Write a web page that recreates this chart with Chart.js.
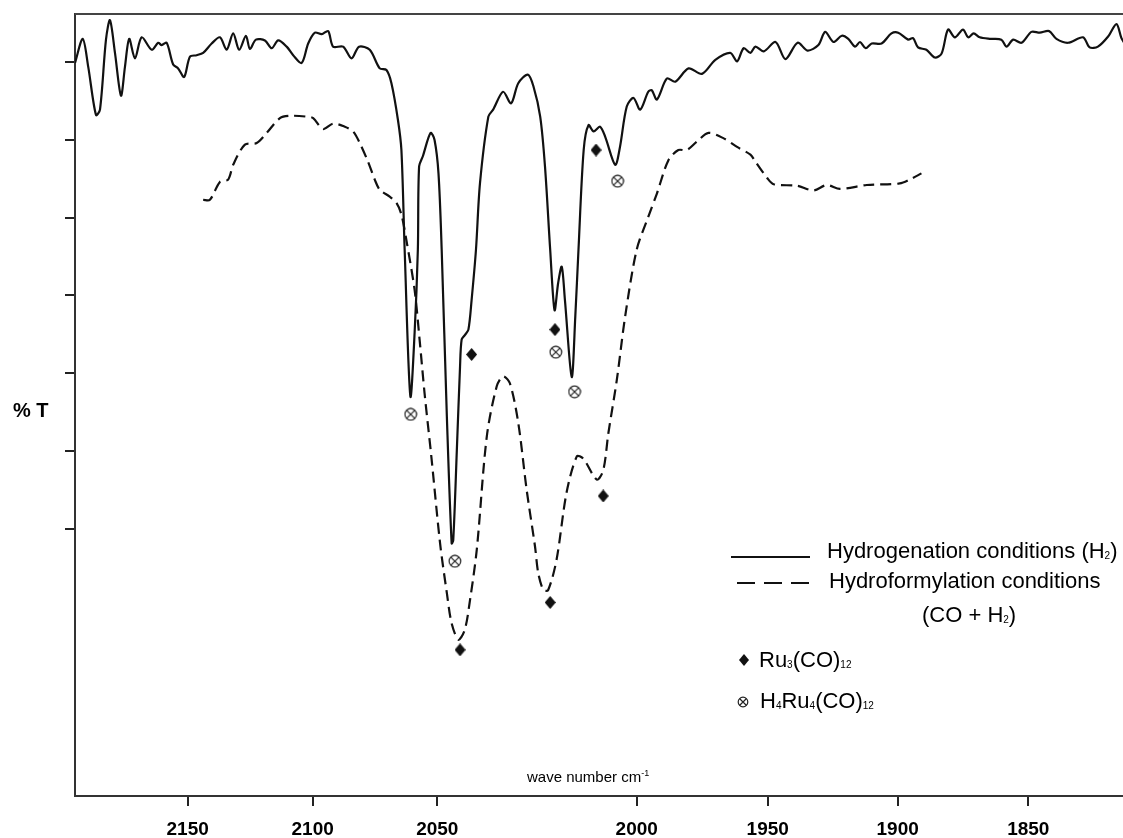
<!DOCTYPE html>
<html>
<head>
<meta charset="utf-8">
<title>IR spectra of Ru carbonyl species</title>
<script src="https://cdn.jsdelivr.net/npm/chart.js@4/dist/chart.umd.min.js"></script>
<style>
  html, body { margin: 0; padding: 0; background: #fff; }
  #wrap { width: 1123px; height: 838px; position: relative; }
</style>
</head>
<body>
<div id="wrap"><canvas id="chart" width="1123" height="838"></canvas></div>
<script>
// ---- axis description -------------------------------------------------
const xTickValues = [2150, 2100, 2050, 2000, 1950, 1900, 1850];
const xAxisEnds = [2195.1, 1813.7];            // left end, right end (cm-1)
// share of the axis length at each printed tick (the printed axis is not uniform)
const xTickFractions = [0.1075, 0.2268, 0.3457, 0.5360, 0.6610, 0.7850, 0.9096];
const yTickValues = [40, 50, 60, 70, 80, 90, 100];
const yRange = [5.6, 106.2];

// ---- spectra ------------------------------------------------------------
// Hydrogenation conditions (H2) - solid trace
const hydrogenationWavenumber = [
  2195.1, 2192.0, 2189.8, 2186.7, 2185.1, 2182.7, 2181.1, 2179.1, 2176.7, 2175.1,
  2173.4, 2171.1, 2168.4, 2164.4, 2161.8, 2160.4, 2158.4, 2155.8, 2153.8, 2151.4,
  2149.1, 2146.4, 2143.8, 2140.4, 2137.1, 2134.4, 2131.8, 2129.4, 2126.7, 2125.1,
  2122.7, 2119.1, 2116.4, 2113.8, 2110.4, 2107.8, 2104.4, 2101.8, 2099.1, 2096.4,
  2093.8, 2091.8, 2087.8, 2084.4, 2081.4, 2077.1, 2073.1, 2070.4, 2068.4, 2065.8,
  2064.4, 2063.1, 2060.8, 2059.1, 2057.8, 2057.3, 2055.8, 2052.7, 2051.1, 2049.7,
  2048.9, 2047.6, 2046.4, 2046.0, 2045.1, 2044.3, 2043.9, 2043.1, 2042.2, 2041.4,
  2040.3, 2039.3, 2037.2, 2036.0, 2033.5, 2031.5, 2029.7, 2027.3, 2025.9, 2024.2,
  2023.0, 2021.7, 2020.6, 2019.7, 2018.8, 2018.0, 2016.3, 2015.4, 2014.6, 2013.3,
  2012.1, 2010.8, 2009.2, 2007.9, 2005.4, 2004.2, 2002.5, 2000.8, 1998.7, 1995.6,
  1994.3, 1992.3, 1988.5, 1985.3, 1980.2, 1975.1, 1970.0, 1964.3, 1961.7, 1959.2,
  1956.6, 1954.7, 1951.5, 1947.0, 1943.2, 1938.5, 1934.7, 1930.5, 1927.9, 1924.7,
  1921.5, 1919.0, 1916.4, 1914.5, 1912.3, 1910.0, 1906.2, 1902.4, 1899.8, 1896.0,
  1894.1, 1892.2, 1889.0, 1885.8, 1883.2, 1880.7, 1878.1, 1875.0, 1873.0, 1870.9,
  1868.6, 1864.7, 1860.3, 1858.3, 1855.8, 1852.6, 1848.8, 1845.6, 1842.0, 1839.2,
  1834.8, 1829.0, 1826.5, 1823.3, 1819.4, 1816.2, 1814.3, 1812.7
];
const hydrogenationT = [
  99.9, 103.0, 99.4, 93.2, 93.9, 102.9, 105.4, 101.2, 95.7, 99.4,
  103.0, 100.5, 103.2, 101.6, 102.5, 102.2, 102.5, 99.7, 99.2, 98.1,
  100.7, 100.9, 101.2, 102.4, 103.2, 101.6, 103.7, 101.6, 103.4, 101.7,
  102.9, 102.8, 101.8, 102.8, 102.0, 100.9, 99.9, 102.4, 103.8, 103.6,
  104.0, 102.0, 102.0, 100.5, 102.0, 101.6, 99.2, 99.0, 97.3, 92.6,
  88.7, 75.9, 57.0, 65.2, 75.9, 86.6, 87.9, 90.9, 90.0, 85.7,
  75.9, 54.4, 38.1, 38.5, 50.1, 60.8, 64.3, 64.9, 65.6, 69.4,
  75.9, 84.4, 93.0, 93.9, 96.2, 94.7, 97.3, 98.4, 96.9, 93.0,
  86.6, 75.9, 68.1, 71.6, 73.7, 69.4, 59.5, 67.3, 75.9, 88.7,
  91.9, 91.1, 91.7, 90.4, 86.8, 89.1, 94.3, 95.4, 93.9, 96.2,
  96.4, 95.2, 97.9, 97.5, 99.2, 98.5, 100.3, 101.2, 100.1, 101.8,
  101.2, 102.0, 101.4, 102.6, 100.4, 102.5, 101.5, 102.2, 103.9, 102.6,
  103.4, 103.0, 102.0, 102.6, 101.8, 102.4, 102.4, 103.7, 103.8, 102.9,
  103.1, 101.9, 101.6, 100.6, 101.1, 104.2, 103.2, 104.2, 103.2, 103.7,
  103.2, 103.0, 102.9, 102.0, 102.9, 102.5, 103.9, 103.8, 104.0, 103.0,
  102.5, 103.2, 101.9, 102.0, 103.3, 104.9, 103.1, 102.2
];

// Hydroformylation conditions (CO + H2) - dashed trace
const hydroformylationWavenumber = [
  2143.8, 2141.1, 2137.1, 2133.8, 2131.8, 2127.1, 2122.4, 2118.4, 2113.1, 2109.1,
  2102.4, 2099.8, 2095.8, 2091.8, 2087.1, 2083.8, 2081.1, 2077.8, 2075.1, 2073.1,
  2069.1, 2066.4, 2064.4, 2062.4, 2059.1, 2057.1, 2055.1, 2052.4, 2049.3, 2047.6,
  2046.4, 2044.7, 2043.1, 2041.8, 2040.1, 2037.6, 2035.1, 2033.5, 2031.8, 2029.7,
  2027.6, 2025.5, 2024.7, 2023.4, 2022.2, 2020.1, 2017.6, 2015.0, 2013.4, 2010.0,
  2008.4, 2007.1, 2005.0, 2002.9, 2000.0, 1995.6, 1992.3, 1987.9, 1984.1, 1980.9,
  1977.0, 1972.6, 1966.8, 1961.7, 1956.6, 1954.7, 1950.2, 1947.7, 1938.7, 1932.4,
  1927.3, 1922.2, 1911.9, 1899.2, 1895.4, 1890.9
];
const hydroformylationT = [
  82.3, 82.3, 84.6, 84.9, 86.8, 89.4, 89.6, 90.9, 92.8, 93.1,
  93.0, 92.8, 91.4, 92.1, 91.7, 91.1, 89.6, 87.2, 84.9, 83.6,
  82.7, 81.9, 80.4, 77.1, 70.7, 64.3, 57.4, 49.3, 38.1, 31.7,
  27.8, 25.7, 27.0, 30.8, 37.3, 51.8, 58.3, 59.6, 58.7, 53.6,
  45.0, 37.7, 34.3, 32.1, 32.1, 36.0, 44.6, 49.3, 49.0, 46.3,
  47.5, 52.3, 59.1, 67.3, 75.9, 80.1, 83.1, 87.4, 88.7, 88.7,
  89.8, 90.9, 90.2, 89.1, 88.1, 87.2, 85.1, 84.3, 84.1, 83.5,
  84.2, 83.7, 84.2, 84.4, 84.9, 85.7
];

// band assignments: Ru3(CO)12 (filled diamonds)
const ru3Wavenumber = [2041.4, 2020.5, 2010.2, 2044.3, 2021.7, 2008.4];
const ru3T = [62.4, 65.6, 88.7, 24.4, 30.5, 44.2];
// band assignments: H4Ru4(CO)12 (circled crosses)
const h4ru4Wavenumber = [2060.7, 2045.6, 2020.3, 2015.6, 2004.8];
const h4ru4T = [54.7, 35.8, 62.7, 57.6, 84.7];

// ---- drawing -------------------------------------------------------------
const FONT = '"Liberation Sans", Arial, Helvetica, sans-serif';
const INK = '#111';

function pairUp(xs, ys) { return xs.map((x, i) => ({ x, y: ys[i] })); }

function diamondGlyph(w, h) {
  const c = document.createElement('canvas');
  c.width = w; c.height = h;
  const g = c.getContext('2d');
  g.fillStyle = INK;
  g.beginPath();
  g.moveTo(w / 2, 0); g.lineTo(w, h / 2); g.lineTo(w / 2, h); g.lineTo(0, h / 2);
  g.closePath(); g.fill();
  return c;
}
function otimesGlyph(d) {
  const c = document.createElement('canvas');
  c.width = d; c.height = d;
  const g = c.getContext('2d');
  const r = d / 2 - 1.2, m = d / 2;
  g.strokeStyle = '#222'; g.lineWidth = 1.2;
  g.beginPath(); g.arc(m, m, r, 0, Math.PI * 2); g.stroke();
  const k = r * 0.68;
  g.beginPath();
  g.moveTo(m - k, m - k); g.lineTo(m + k, m + k);
  g.moveTo(m + k, m - k); g.lineTo(m - k, m + k);
  g.stroke();
  return c;
}
const diamondMark = diamondGlyph(11, 13);
const otimesMark = otimesGlyph(14);
const diamondKey = diamondGlyph(10, 12);
const otimesKey = otimesGlyph(12);

// linear pieces between the printed ticks
class SegmentedScale extends Chart.LinearScale {
  static id = 'segmented';
  static defaults = Chart.LinearScale.defaults;
  _knots() {
    return { v: [xAxisEnds[0], ...xTickValues, xAxisEnds[1]], f: [0, ...xTickFractions, 1] };
  }
  getPixelForValue(value) {
    const { v, f } = this._knots();
    let i = 0;
    while (i < v.length - 2 && value < v[i + 1]) i++;
    const t = (value - v[i]) / (v[i + 1] - v[i]);
    return this.getPixelForDecimal(f[i] + t * (f[i + 1] - f[i]));
  }
  getValueForPixel(pixel) {
    const { v, f } = this._knots();
    const d = this.getDecimalForPixel(pixel);
    let i = 0;
    while (i < f.length - 2 && d > f[i + 1]) i++;
    const t = (d - f[i]) / (f[i + 1] - f[i]);
    return v[i] + t * (v[i + 1] - v[i]);
  }
}
Chart.register(SegmentedScale);

// rich text with sub/superscripts; parts: [text, 'sub'|'sup'|undefined]
function richText(ctx, parts, x, baseline, size, weight) {
  let cx = x;
  for (const [txt, kind] of parts) {
    let fs = size, dy = 0;
    if (kind === 'sub') { fs = Math.round(size * 0.45); dy = 1; }
    if (kind === 'sup') { fs = Math.round(size * 0.6); dy = -size * 0.42; }
    ctx.font = `${weight || 'normal'} ${fs}px ${FONT}`;
    ctx.fillText(txt, cx, baseline + dy);
    cx += ctx.measureText(txt).width;
  }
}

const figureText = {
  id: 'figureText',
  afterDraw(chart) {
    const { ctx, chartArea: a } = chart;
    ctx.save();
    // top frame line
    ctx.strokeStyle = '#444'; ctx.lineWidth = 2;
    ctx.beginPath(); ctx.moveTo(a.left, a.top); ctx.lineTo(chart.width, a.top); ctx.stroke();

    ctx.fillStyle = '#000';
    ctx.textBaseline = 'alphabetic';
    ctx.textAlign = 'left';
    // y title
    richText(ctx, [['% T']], 13, 417, 20, 'bold');
    // x title
    richText(ctx, [['wave number cm'], ['-1', 'sup']], 527, 782, 15);

    // legend
    ctx.strokeStyle = INK; ctx.lineWidth = 2;
    ctx.beginPath(); ctx.moveTo(731, 557); ctx.lineTo(810, 557); ctx.stroke();
    ctx.setLineDash([18, 9]);
    ctx.beginPath(); ctx.moveTo(737, 583); ctx.lineTo(809, 583); ctx.stroke();
    ctx.setLineDash([]);
    richText(ctx, [['Hydrogenation conditions (H'], ['2', 'sub'], [')']], 827, 558, 22);
    richText(ctx, [['Hydroformylation conditions']], 829, 588, 22);
    richText(ctx, [['(CO + H'], ['2', 'sub'], [')']], 922, 622, 22);
    ctx.drawImage(diamondKey, 744 - diamondKey.width / 2, 660 - diamondKey.height / 2);
    richText(ctx, [['Ru'], ['3', 'sub'], ['(CO)'], ['12', 'sub']], 759, 667, 22);
    ctx.drawImage(otimesKey, 743 - otimesKey.width / 2, 702 - otimesKey.height / 2);
    richText(ctx, [['H'], ['4', 'sub'], ['Ru'], ['4', 'sub'], ['(CO)'], ['12', 'sub']], 760, 708, 22);
    ctx.restore();
  }
};

const axisGrid = { display: true, drawOnChartArea: false, drawTicks: true, tickLength: 10, color: '#222', lineWidth: 2 };
const axisBorder = { display: true, color: '#333', width: 2 };

new Chart(document.getElementById('chart'), {
  type: 'scatter',
  data: {
    datasets: [
      {
        label: 'Hydrogenation conditions (H2)',
        data: pairUp(hydrogenationWavenumber, hydrogenationT),
        showLine: true, borderColor: INK, borderWidth: 2.2, pointRadius: 0, tension: 0.3
      },
      {
        label: 'Hydroformylation conditions (CO + H2)',
        data: pairUp(hydroformylationWavenumber, hydroformylationT),
        showLine: true, borderColor: INK, borderWidth: 2.2, borderDash: [11, 6], pointRadius: 0, tension: 0.3
      },
      {
        label: 'Ru3(CO)12',
        data: pairUp(ru3Wavenumber, ru3T),
        showLine: false, pointStyle: diamondMark, pointRadius: 6
      },
      {
        label: 'H4Ru4(CO)12',
        data: pairUp(h4ru4Wavenumber, h4ru4T),
        showLine: false, pointStyle: otimesMark, pointRadius: 7
      }
    ]
  },
  options: {
    responsive: false,
    animation: false,
    events: [],
    layout: { autoPadding: false, padding: { left: 65, top: 14, right: 0, bottom: 0 } },
    plugins: { legend: { display: false }, tooltip: { enabled: false } },
    scales: {
      x: {
        type: 'segmented',
        min: xAxisEnds[1], max: xAxisEnds[0],
        afterBuildTicks: axis => { axis.ticks = xTickValues.map(v => ({ value: v })); },
        afterFit: axis => { axis.height = 42; axis.paddingLeft = 0; axis.paddingRight = 0; },
        grid: axisGrid,
        border: axisBorder,
        ticks: {
          callback: v => String(v),
          font: { family: FONT, size: 19, weight: 'bold' },
          color: '#000', padding: 12, maxRotation: 0, autoSkip: false
        }
      },
      y: {
        type: 'linear',
        min: yRange[0], max: yRange[1],
        afterBuildTicks: axis => { axis.ticks = yTickValues.map(v => ({ value: v })); },
        afterFit: axis => { axis.width = 10; axis.paddingTop = 0; axis.paddingBottom = 0; },
        grid: axisGrid,
        border: axisBorder,
        ticks: { display: false }
      }
    }
  },
  plugins: [figureText]
});
</script>
</body>
</html>
